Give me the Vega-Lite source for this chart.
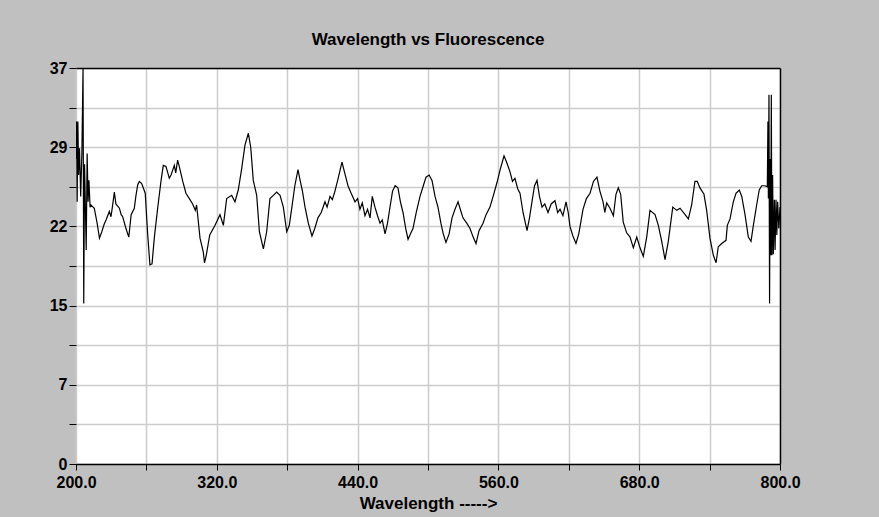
{
  "$schema": "https://vega.github.io/schema/vega-lite/v6.json",
  "autosize": {"type": "none"},
  "width": 704,
  "height": 396,
  "padding": {"left": 76, "top": 68, "right": 99, "bottom": 53},
  "background": "#c0c0c0",
  "title": {"text": "Wavelength vs Fluorescence", "font": "Liberation Sans", "fontSize": 17, "fontWeight": "bold", "color": "#000000", "anchor": "middle", "offset": 11},
  "config": {
    "view": {"fill": "white", "stroke": null},
    "axis": {"labelFont": "Liberation Sans", "labelFontSize": 16, "labelFontWeight": "bold", "labelColor": "#000000", "titleFont": "Liberation Sans", "titleFontSize": 17, "titleFontWeight": "bold", "titleColor": "#000000", "tickColor": "#000000", "domainColor": "#000000", "gridColor": "#cccccc", "gridWidth": 1.5, "gridOpacity": 1}
  },
  "resolve": {"axis": {"x": "independent", "y": "independent"}},
  "layer": [
    {
      "data": {"values": [{"w": 200, "f": 0}, {"w": 800, "f": 37}]},
      "mark": {"type": "point", "opacity": 0},
      "encoding": {
        "x": {"field": "w", "type": "quantitative", "scale": {"domain": [200, 800], "nice": false, "zero": false}, "axis": {"orient": "top", "labels": false, "ticks": false, "grid": false, "domain": true, "domainWidth": 1.5, "title": null}},
        "y": {"field": "f", "type": "quantitative", "scale": {"domain": [0, 37], "nice": false}, "axis": {"orient": "right", "labels": false, "ticks": false, "grid": false, "domain": true, "domainWidth": 1.5, "title": null}}
      }
    },
    {
      "data": {"values": [
        {"w":200,"f":28.5},{"w":200.5,"f":32},{"w":201,"f":24.5},{"w":201.6,"f":32},{"w":202.2,"f":27},{"w":203,"f":29.5},{"w":204,"f":25},{"w":205,"f":29},{"w":206,"f":37},{"w":206.6,"f":15},{"w":207.3,"f":28},{"w":208,"f":24},{"w":208.7,"f":20},{"w":209.5,"f":29},{"w":210.3,"f":24.5},{"w":211,"f":26.5},{"w":212,"f":24},{"w":212.8,"f":24.2},
        {"w":215.6,"f":23.9},{"w":218,"f":22.5},{"w":220,"f":21.1},{"w":222,"f":21.7},{"w":224,"f":22.4},{"w":225.6,"f":22.8},{"w":228.4,"f":23.6},{"w":229.8,"f":23.1},{"w":231,"f":24},{"w":232.7,"f":25.4},{"w":234,"f":24.3},{"w":237,"f":23.9},{"w":238.5,"f":23.3},{"w":239.8,"f":23.1},{"w":242.6,"f":22.0},{"w":245,"f":21.2},{"w":247,"f":23.3},{"w":249.7,"f":23.9},{"w":251,"f":25},{"w":252.6,"f":26.1},{"w":254,"f":26.4},{"w":256,"f":26.2},{"w":259,"f":25.3},{"w":261,"f":21.6},{"w":263,"f":18.6},{"w":264.8,"f":18.7},{"w":266.8,"f":21.2},{"w":269.6,"f":23.9},{"w":272.4,"f":26.4},{"w":274.4,"f":27.9},{"w":276.7,"f":27.8},{"w":278,"f":27.3},{"w":279.5,"f":26.7},{"w":281,"f":27},{"w":283.8,"f":27.9},{"w":285,"f":27.2},{"w":286.6,"f":28.4},{"w":288,"f":27.8},{"w":291,"f":26.4},{"w":293.7,"f":25.3},{"w":296.6,"f":24.8},{"w":299.4,"f":24.3},{"w":301.7,"f":23.7},{"w":302.8,"f":24.2},{"w":305.7,"f":21.1},{"w":308.5,"f":19.8},{"w":309.5,"f":18.8},{"w":311,"f":19.5},{"w":314,"f":21.4},{"w":318.5,"f":22.3},{"w":322.7,"f":23.3},{"w":325.6,"f":22.3},{"w":328.4,"f":24.8},{"w":332.7,"f":25.1},{"w":335.5,"f":24.5},{"w":338.3,"f":25.6},{"w":341.2,"f":27.6},{"w":344,"f":29.8},{"w":346.9,"f":30.9},{"w":348.9,"f":29.6},{"w":351.1,"f":26.5},{"w":354,"f":25.1},{"w":356.3,"f":21.7},{"w":359.7,"f":20.1},{"w":362.5,"f":21.7},{"w":365.3,"f":24.8},{"w":368.2,"f":25.1},{"w":371,"f":25.4},{"w":373.9,"f":25.1},{"w":376.7,"f":24.0},{"w":379.6,"f":21.7},{"w":381.8,"f":22.3},
        {"w":384,"f":24},{"w":386.5,"f":26},{"w":389.2,"f":27.5},{"w":391,"f":26.5},{"w":393,"f":25.5},{"w":395.2,"f":24},{"w":398,"f":22.5},{"w":401.1,"f":21.3},{"w":403.5,"f":22},{"w":406.2,"f":23},{"w":409,"f":23.5},{"w":412.2,"f":24.5},{"w":414,"f":24},{"w":416.5,"f":25},{"w":418.5,"f":24.7},{"w":420.7,"f":25.5},{"w":423,"f":26.5},{"w":426.7,"f":28.2},{"w":429,"f":27.2},{"w":431.8,"f":26},{"w":434.5,"f":25.3},{"w":437.8,"f":24.5},{"w":440,"f":24.8},{"w":442,"f":23.8},{"w":444,"f":24.4},{"w":446.3,"f":23.2},{"w":448.5,"f":23.8},{"w":450.6,"f":23},{"w":452.5,"f":25},{"w":454.8,"f":24},{"w":457,"f":23.2},{"w":459.1,"f":22.5},{"w":461,"f":22.8},{"w":463.4,"f":21.5},{"w":465.5,"f":22.5},{"w":467.6,"f":24},{"w":469.8,"f":25.5},{"w":472,"f":26},{"w":474.4,"f":25.8},{"w":476.5,"f":24.5},{"w":478.7,"f":23.5},{"w":481,"f":22},{"w":483,"f":21},{"w":485,"f":21.5},{"w":487.2,"f":22},{"w":490,"f":23.5},{"w":493.2,"f":25},{"w":496,"f":26},{"w":498.3,"f":26.8},{"w":501,"f":27},{"w":503.4,"f":26.5},{"w":506,"f":25},{"w":508.5,"f":24},{"w":511,"f":22.5},{"w":513,"f":21.5},{"w":515.3,"f":20.7},{"w":518,"f":21.5},{"w":520.5,"f":23},{"w":523,"f":23.8},{"w":525.6,"f":24.5},{"w":527.5,"f":23.8},{"w":529.8,"f":23},{"w":533,"f":22.5},{"w":535.8,"f":22},{"w":538.5,"f":21.2},{"w":540.9,"f":20.6},{"w":543.5,"f":21.8},{"w":546.9,"f":22.5},{"w":549.5,"f":23.3},{"w":552.8,"f":24},{"w":555.5,"f":25},{"w":558.8,"f":26.3},{"w":561.5,"f":27.5},{"w":564.8,"f":28.8},{"w":567,"f":28.2},{"w":569.9,"f":27.3},{"w":572,"f":26.4},{"w":574.1,"f":26.7},{"w":576.5,"f":25.7},{"w":578.4,"f":25.3},{"w":581,"f":23.5},{"w":584.4,"f":21.8},{"w":586.5,"f":23},{"w":588.6,"f":24.5},{"w":590.8,"f":26},{"w":592.9,"f":26.5},{"w":595,"f":25},{"w":597.2,"f":24},{"w":599.5,"f":24.3},{"w":602.3,"f":23.5},{"w":605,"f":24.3},{"w":608.2,"f":24.6},{"w":610.5,"f":23.5},{"w":612.5,"f":23.8},{"w":615,"f":23.2},{"w":617.6,"f":24.5},{"w":619.5,"f":23.5},{"w":621,"f":22.2},{"w":623.5,"f":21.3},{"w":626.1,"f":20.6},{"w":628.5,"f":21.5},{"w":632.1,"f":23.8},{"w":635,"f":24.8},{"w":638.1,"f":25.3},{"w":641,"f":26.4},{"w":644,"f":26.8},{"w":646.5,"f":25.5},
        {"w":649.2,"f":24.5},{"w":650.7,"f":23.5},{"w":652.3,"f":24.4},{"w":655.1,"f":23.9},{"w":658.0,"f":23.2},{"w":660.2,"f":25.2},{"w":662.2,"f":25.8},{"w":664.2,"f":25.2},{"w":666.4,"f":22.6},{"w":669.3,"f":21.6},{"w":672.2,"f":21.2},{"w":675.0,"f":20.2},{"w":677.9,"f":21.2},{"w":680.7,"f":20.2},{"w":683.5,"f":19.4},{"w":686.4,"f":21.2},{"w":689.2,"f":23.7},{"w":693.5,"f":23.3},{"w":696.3,"f":22.3},{"w":699.2,"f":20.8},{"w":702.0,"f":19.1},{"w":704.8,"f":20.8},{"w":708.6,"f":24.0},{"w":712.0,"f":23.7},{"w":714.8,"f":23.9},{"w":719.1,"f":23.3},{"w":721.9,"f":22.9},{"w":724.7,"f":24.2},{"w":727.5,"f":26.4},{"w":729.5,"f":26.4},{"w":731.8,"f":25.8},{"w":735.2,"f":25.2},{"w":737.5,"f":23.7},{"w":740.3,"f":21.1},{"w":743.2,"f":19.5},{"w":745.5,"f":18.8},{"w":747.4,"f":20.3},{"w":750.3,"f":20.6},{"w":754.0,"f":20.9},{"w":755.1,"f":22.3},{"w":757.4,"f":22.9},{"w":760.2,"f":24.5},{"w":762.5,"f":25.3},{"w":765.3,"f":25.6},{"w":767.4,"f":25.0},{"w":770.2,"f":23.3},{"w":773.0,"f":21.2},{"w":775.3,"f":20.8},{"w":777.3,"f":22.3},{"w":780.1,"f":24.2},{"w":782.3,"f":25.6},{"w":784.4,"f":26.0},{"w":787.2,"f":26.0},{"w":789.2,"f":25.9},
        {"w":789.7,"f":32},{"w":790.1,"f":24.8},{"w":790.6,"f":34.5},{"w":791.1,"f":15},{"w":791.6,"f":28.5},{"w":792.1,"f":19.5},{"w":792.6,"f":34.5},{"w":793.1,"f":19.5},{"w":793.7,"f":27},{"w":794.3,"f":19.6},{"w":795.2,"f":24.7},{"w":795.8,"f":20},{"w":796.6,"f":24.7},{"w":797.3,"f":21.4},{"w":798,"f":24.5},{"w":799,"f":22},{"w":800,"f":24}
      ]},
      "mark": {"type": "line", "color": "#000000", "strokeWidth": 1.2, "clip": true},
      "encoding": {
        "x": {"field": "w", "type": "quantitative", "scale": {"domain": [200, 800], "nice": false, "zero": false},
          "axis": {"orient": "bottom", "title": "Wavelength ----->", "values": [200,260,320,380,440,500,560,620,680,740,800], "labelExpr": "datum.value % 120 == 80 ? format(datum.value, '.1f') : ''", "tickSize": 6, "labelPadding": 4, "titlePadding": 5, "labelFlush": false, "labelOverlap": false, "domain": true, "domainWidth": 1.5, "grid": true}},
        "y": {"field": "f", "type": "quantitative", "scale": {"domain": [0, 37], "nice": false},
          "axis": {"orient": "left", "title": null, "values": [0,3.7,7.4,11.1,14.8,18.5,22.2,25.9,29.6,33.3,37], "labelExpr": "round(datum.value*10)==0?'0':round(datum.value*10)==74?'7':round(datum.value*10)==148?'15':round(datum.value*10)==222?'22':round(datum.value*10)==296?'29':round(datum.value*10)==370?'37':''", "tickSize": 7, "labelPadding": 2, "labelFlush": false, "labelOverlap": false, "domain": false, "grid": true}}
      }
    }
  ]
}
